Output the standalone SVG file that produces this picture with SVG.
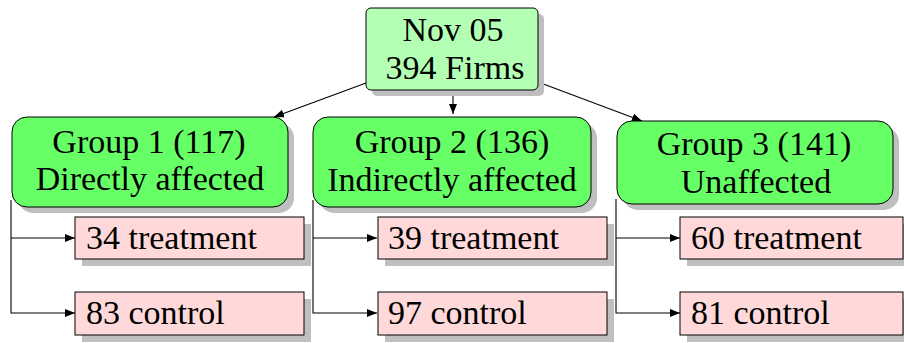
<svg xmlns="http://www.w3.org/2000/svg" width="904" height="343" viewBox="0 0 904 343">
<defs>
<marker id="ah" viewBox="0 0 10 10" refX="10" refY="5" markerWidth="10" markerHeight="10" markerUnits="userSpaceOnUse" orient="auto">
<path d="M0,1 L10,5 L0,9 z" fill="#000"/>
</marker>
</defs>
<style>
text{font-family:"Liberation Serif","Times New Roman",serif;font-size:34px;fill:#000}
.c{text-anchor:middle}
.sh{fill:#bfbfbf}
.top{fill:#b3ffb3;stroke:#000;stroke-width:1}
.grp{fill:#66ff66;stroke:#000;stroke-width:1}
.leaf{fill:#ffd9d9;stroke:#000;stroke-width:1}
.ln{fill:none;stroke:#000;stroke-width:1.1}
</style>
<g id="connectors">
<line class="ln" x1="366" y1="83" x2="274" y2="117" marker-end="url(#ah)"/>
<line class="ln" x1="453" y1="90" x2="453" y2="114" marker-end="url(#ah)"/>
<line class="ln" x1="538" y1="82" x2="642" y2="121" marker-end="url(#ah)"/>
<path class="ln" d="M11,200 V313 H75" marker-end="url(#ah)"/>
<path class="ln" d="M11,238 H75" marker-end="url(#ah)"/>
<path class="ln" d="M313,200 V313 H377" marker-end="url(#ah)"/>
<path class="ln" d="M313,238 H377" marker-end="url(#ah)"/>
<path class="ln" d="M616,199 V313 H680" marker-end="url(#ah)"/>
<path class="ln" d="M616,238 H680" marker-end="url(#ah)"/>
</g>
<g id="root">
<rect class="sh" x="372" y="14" width="172" height="82" rx="5"/>
<rect class="top" x="366" y="8" width="172" height="82" rx="5"/>
<text class="c" x="453" y="41">Nov 05</text>
<text class="c" x="455" y="79">394 Firms</text>
</g>
<g id="group1">
<rect class="sh" x="18" y="123" width="276" height="90" rx="15"/>
<rect class="grp" x="12" y="117" width="276" height="90" rx="15"/>
<text class="c" x="149" y="153">Group 1 (117)</text>
<text class="c" x="150" y="190">Directly affected</text>
</g>
<g id="group2">
<rect class="sh" x="319" y="123" width="278" height="90" rx="15"/>
<rect class="grp" x="313" y="117" width="278" height="90" rx="15"/>
<text class="c" x="452" y="153">Group 2 (136)</text>
<text class="c" x="452" y="191">Indirectly affected</text>
</g>
<g id="group3">
<rect class="sh" x="623" y="127" width="276" height="83" rx="15"/>
<rect class="grp" x="617" y="121" width="276" height="83" rx="15"/>
<text class="c" x="754" y="155">Group 3 (141)</text>
<text class="c" x="756" y="193">Unaffected</text>
</g>
<g id="g1t">
<rect class="sh" x="82" y="224" width="229" height="42"/>
<rect class="leaf" x="75" y="217" width="229" height="42"/>
<text x="86" y="249">34 treatment</text>
</g>
<g id="g1c">
<rect class="sh" x="82" y="299" width="229" height="43"/>
<rect class="leaf" x="75" y="292" width="229" height="43"/>
<text x="86" y="324">83 control</text>
</g>
<g id="g2t">
<rect class="sh" x="385" y="224" width="229" height="42"/>
<rect class="leaf" x="378" y="217" width="229" height="42"/>
<text x="388" y="249">39 treatment</text>
</g>
<g id="g2c">
<rect class="sh" x="385" y="299" width="229" height="43"/>
<rect class="leaf" x="378" y="292" width="229" height="43"/>
<text x="388" y="324">97 control</text>
</g>
<g id="g3t">
<rect class="sh" x="687" y="224" width="229" height="42"/>
<rect class="leaf" x="680" y="217" width="223" height="42"/>
<text x="691" y="249">60 treatment</text>
</g>
<g id="g3c">
<rect class="sh" x="687" y="299" width="229" height="43"/>
<rect class="leaf" x="680" y="292" width="223" height="43"/>
<text x="691" y="324">81 control</text>
</g>
</svg>
